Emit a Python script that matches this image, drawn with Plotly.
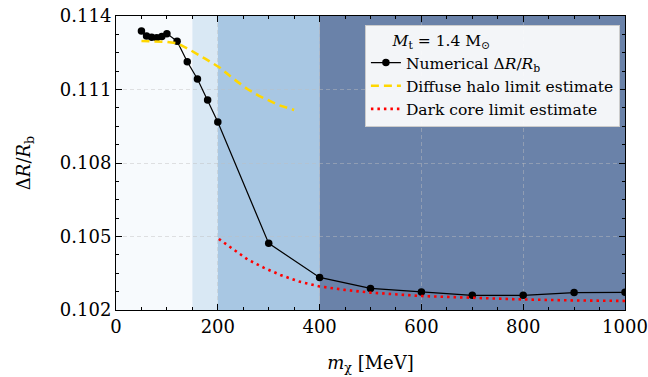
import plotly.graph_objects as go

# Numerical results
m_num = [50, 60, 70, 80, 90, 100, 120, 140, 160, 180, 200, 300, 400, 500, 600, 700, 800, 900, 1000]
dr_num = [0.11339, 0.11318, 0.11313, 0.11311, 0.11316, 0.11328, 0.11297, 0.11213, 0.11143, 0.11057,
          0.10967, 0.10472, 0.10333, 0.10288, 0.10273, 0.10260, 0.10260, 0.10271, 0.10272]

# Diffuse halo limit estimate
m_halo = [50, 75, 100, 120, 146, 175, 205, 230, 258, 280, 297, 320, 350]
dr_halo = [0.11298, 0.11296, 0.11294, 0.11289, 0.11261, 0.11226, 0.11188, 0.11145, 0.11102, 0.11075, 0.11057, 0.11036, 0.11016]

# Dark core limit estimate
m_core = [202, 230, 258, 290, 323, 360, 400, 450, 500, 600, 700, 800, 900, 1000]
dr_core = [0.10490, 0.10447, 0.10407, 0.10373, 0.10343, 0.10316, 0.10296, 0.10282, 0.10271, 0.10257, 0.10249, 0.10243, 0.10239, 0.10237]

band_edges = [0, 150, 200, 400, 1000]
band_colors = ["#f7fafd", "#d9e8f4", "#a8c7e3", "#6a82a9"]

x_ticks = [0, 200, 400, 600, 800, 1000]
y_ticks = [0.102, 0.105, 0.108, 0.111, 0.114]

FONT = "DejaVu Serif"

fig = go.Figure()

fig.add_trace(go.Scatter(x=m_num, y=dr_num, mode="lines+markers",
                         line=dict(color="black", width=1.2),
                         marker=dict(color="black", size=7.5),
                         name="Numerical Δ<i>R</i>/<i>R</i><sub>b</sub>"))
fig.add_trace(go.Scatter(x=m_halo, y=dr_halo, mode="lines",
                         line=dict(color="#ffd700", width=2.6, dash="8px,5px"),
                         name="Diffuse halo limit estimate"))
fig.add_trace(go.Scatter(x=m_core, y=dr_core, mode="lines",
                         line=dict(color="#ff0000", width=2.6, dash="2.5px,4px"),
                         name="Dark core limit estimate"))

for i in range(len(band_colors)):
    fig.add_shape(type="rect", xref="x", yref="paper",
                  x0=band_edges[i], x1=band_edges[i + 1], y0=0, y1=1,
                  fillcolor=band_colors[i], line_width=0, layer="below")

axis_common = dict(showline=True, linecolor="black", linewidth=1, mirror="ticks",
                   ticks="inside", ticklen=6, tickwidth=1, tickcolor="black",
                   showgrid=True, gridcolor="rgba(190,190,190,0.45)", griddash="4px,3px", gridwidth=1,
                   zeroline=False, automargin=False,
                   tickfont=dict(family=FONT, size=18, color="black"))

fig.update_xaxes(range=[0, 1000], tickvals=x_ticks, ticktext=[str(v) for v in x_ticks],
                 minor=dict(dtick=50, ticks="inside", ticklen=3, tickcolor="black", showgrid=False),
                 title=dict(text="<i>m</i><sub>χ</sub> [MeV]", font=dict(family=FONT, size=18, color="black"), standoff=20),
                 **axis_common)
fig.update_yaxes(range=[0.102, 0.114], tickvals=y_ticks, ticktext=[f"{v:.3f}" for v in y_ticks],
                 minor=dict(tick0=0.102, dtick=0.00075, ticks="inside", ticklen=3, tickcolor="black", showgrid=False),
                 title=dict(text="Δ<i>R</i>/<i>R</i><sub>b</sub>", font=dict(family=FONT, size=18, color="black"), standoff=24),
                 **axis_common)

fig.update_layout(
    width=648, height=377,
    margin=dict(l=116, r=23, t=16, b=67),
    plot_bgcolor="white", paper_bgcolor="white",
    font=dict(family=FONT, size=15, color="black"),
    showlegend=True,
    legend=dict(x=0.99, y=0.97, xanchor="right", yanchor="top",
                bgcolor="rgba(255,255,255,0.92)", bordercolor="#cccccc", borderwidth=1,
                font=dict(family=FONT, size=15.5, color="black"),
                title=dict(text="     <i>M</i><sub>t</sub> = 1.4 M<sub>⊙</sub>", font=dict(family=FONT, size=15.5)),
                tracegroupgap=0, itemwidth=30),
)

fig.write_html("out.html")
